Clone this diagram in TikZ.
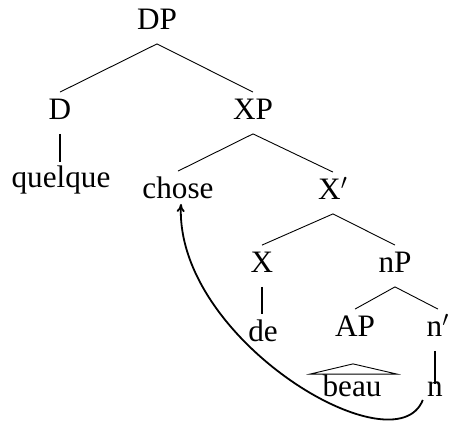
\documentclass[tikz,border=0pt]{standalone}
\usepackage{fontspec}
\setmainfont{Liberation Serif}
\usetikzlibrary{calc,arrows.meta}
\begin{document}
\begin{tikzpicture}[x=0.5pt,y=-0.5pt,
    every node/.style={font=\fontsize{15.6}{18}\selectfont,anchor=base,
      text height=10pt,text depth=3pt,inner xsep=1pt,inner ysep=3.75pt},
    branch/.style={line width=0.45pt},
    stem/.style={line width=1.4pt}]
    \useasboundingbox (0,0) rectangle (451,421);
    % nodes
    \node (dp) at (157,30) {DP};
    \node (d) at (60,120) {D};
    \node (xp) at (253,120) {XP};
    \node (quelque) at (61,188) {quelque};
    \node (chose) at (178,199) {chose};
    \node (xbar) at (333,200) {X$'$};
    \node (x) at (262,273) {X};
    \node (np) at (395,273) {nP};
    \node (de) at (263,342) {de};
    \node (ap) at (355,337) {AP};
    \node (nbar) at (438,337) {n$'$};
    \node (beau) at (352,397) {beau};
    \node (n) at (435,397) {n};
    % branches
    \draw[branch] (dp.south) -- (d.north);
    \draw[branch] (dp.south) -- (xp.north);
    \draw[branch] (xp.south) -- (chose.north);
    \draw[branch] (xp.south) -- (xbar.north);
    \draw[branch] (xbar.south) -- (x.north);
    \draw[branch] (xbar.south) -- (np.north);
    \draw[branch] (np.south) -- (ap.north);
    \draw[branch] (np.south) -- (nbar.north);
    \draw[stem,shorten >=-1pt] (d.south) -- (d.south |- quelque.north);
    \draw[stem] (x.south) -- (x.south |- de.north);
    \draw[stem] ($(nbar.south)+(-3,0)$) -- ($(nbar.south)+(-3,33)$);
    % triangle
    \draw[branch] ($(ap.south)+(-2,13)$) -- ($(beau.north)+(-42,5)$)
      -- ($(beau.north)+(45,5)$) -- cycle;
    % movement
    \draw[line width=0.9pt,-{To[length=4pt,width=4pt]}] ($(n.base west)+(-2,3)$)
      .. controls (395,470) and (175,340) .. ($(chose.base)+(3,5)$);
\end{tikzpicture}
\end{document}
